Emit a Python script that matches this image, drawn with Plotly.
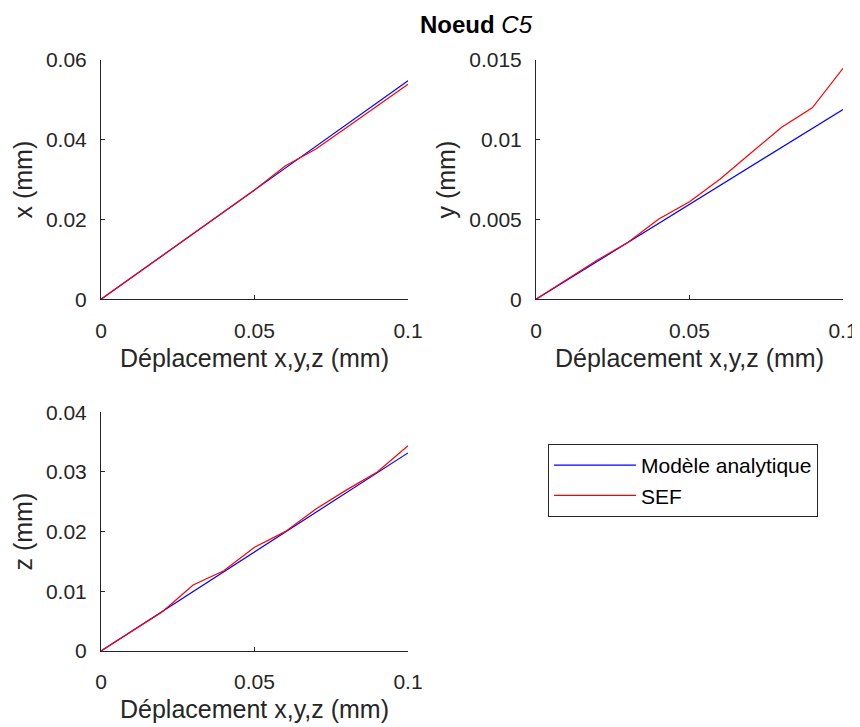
import plotly.graph_objects as go

# ---- data ----
deplacement = [0, 0.01, 0.02, 0.03, 0.04, 0.05, 0.06, 0.07, 0.08, 0.09, 0.1]

x_analytique = [0, 0.00548, 0.01096, 0.01644, 0.02192, 0.0274, 0.03288, 0.03836, 0.04384, 0.04932, 0.0548]
x_sef = [0, 0.0055, 0.0110, 0.0166, 0.0220, 0.0274, 0.0334, 0.0377, 0.0431, 0.0485, 0.0539]

y_analytique = [0, 0.00119, 0.00238, 0.00357, 0.00476, 0.00595, 0.00714, 0.00833, 0.00952, 0.01071, 0.0119]
y_sef = [0, 0.00125, 0.00246, 0.00357, 0.00503, 0.00612, 0.00754, 0.00917, 0.01078, 0.0120, 0.01448]

z_analytique = [0, 0.00332, 0.00664, 0.00996, 0.01328, 0.0166, 0.01992, 0.02324, 0.02656, 0.02988, 0.0332]
z_sef = [0, 0.00335, 0.00659, 0.01106, 0.01346, 0.01738, 0.0200, 0.0238, 0.0270, 0.0300, 0.0344]

x_ticks = [0, 0.05, 0.1]
x_ticklabels = ["0", "0.05", "0.1"]
y1_ticks = [0, 0.02, 0.04, 0.06]
y1_ticklabels = ["0", "0.02", "0.04", "0.06"]
y2_ticks = [0, 0.005, 0.01, 0.015]
y2_ticklabels = ["0", "0.005", "0.01", "0.015"]
y3_ticks = [0, 0.01, 0.02, 0.03, 0.04]
y3_ticklabels = ["0", "0.01", "0.02", "0.03", "0.04"]

BLUE = "#0000ff"
RED = "#ff0000"
AX = "#262626"
FONT = "Liberation Sans, Arial, Helvetica, sans-serif"

fig = go.Figure()

panels = [
    ("x", "y", x_analytique, x_sef, True),
    ("x2", "y2", y_analytique, y_sef, False),
    ("x3", "y3", z_analytique, z_sef, False),
]
for xa, ya, ana, sef, show in panels:
    fig.add_trace(go.Scatter(x=deplacement, y=ana, mode="lines", name="Modèle analytique",
                             line=dict(color=BLUE, width=1.2), xaxis=xa, yaxis=ya,
                             showlegend=show, legendrank=1))
    fig.add_trace(go.Scatter(x=deplacement, y=sef, mode="lines", name="SEF",
                             line=dict(color=RED, width=1.2), xaxis=xa, yaxis=ya,
                             showlegend=show, legendrank=2))

W, H = 860, 727
OFF = 8  # page body margin

def dom_x(a, b):
    return [(a - OFF) / W, (b - OFF) / W]

def dom_y(top, bottom):
    return [1 - (bottom - OFF) / H, 1 - (top - OFF) / H]

def xaxis(domain, anchor):
    return dict(domain=domain, anchor=anchor, range=[0, 0.1], tickvals=x_ticks, ticktext=x_ticklabels,
                ticks="inside", ticklen=4, tickcolor=AX, showline=True, linecolor=AX, linewidth=1,
                showgrid=False, zeroline=False, mirror=False, ticklabelstandoff=12,
                tickfont=dict(family=FONT, size=21, color=AX),
                title=dict(text="Déplacement x,y,z (mm)", font=dict(family=FONT, size=25, color=AX), standoff=8))

def yaxis(domain, anchor, rng, tv, tt, title):
    return dict(domain=domain, anchor=anchor, range=rng, tickvals=tv, ticktext=tt,
                ticks="inside", ticklen=4, tickcolor=AX, showline=True, linecolor=AX, linewidth=1,
                showgrid=False, zeroline=False, mirror=False, ticklabelstandoff=9,
                tickfont=dict(family=FONT, size=21, color=AX),
                title=dict(text=title, font=dict(family=FONT, size=25, color=AX), standoff=6))

fig.update_layout(
    width=W, height=H,
    margin=dict(l=0, r=0, t=0, b=0, autoexpand=False),
    paper_bgcolor="white", plot_bgcolor="white",
    font=dict(family=FONT, color=AX),
    title=dict(text="<b>Noeud</b> <i>C5</i>", x=(476 - OFF) / W, xanchor="center",
               y=1 - (25 - OFF) / H, yanchor="middle",
               font=dict(family=FONT, size=24, color="black")),
    xaxis=xaxis(dom_x(101, 408), "y"),
    yaxis=yaxis(dom_y(60, 299.3), "x", [0, 0.06], y1_ticks, y1_ticklabels, "x (mm)"),
    xaxis2=xaxis(dom_x(536, 843), "y2"),
    yaxis2=yaxis(dom_y(60, 299.3), "x2", [0, 0.015], y2_ticks, y2_ticklabels, "y (mm)"),
    xaxis3=xaxis(dom_x(101, 408), "y3"),
    yaxis3=yaxis(dom_y(412.3, 651), "x3", [0, 0.04], y3_ticks, y3_ticklabels, "z (mm)"),
    legend=dict(x=(548 - OFF) / W, y=1 - (444 - OFF) / H, xanchor="left", yanchor="top",
                bordercolor=AX, borderwidth=1, bgcolor="white",
                font=dict(family=FONT, size=21, color="black"),
                itemwidth=82, tracegroupgap=0),
    showlegend=True,
)

fig.write_html("out.html")
